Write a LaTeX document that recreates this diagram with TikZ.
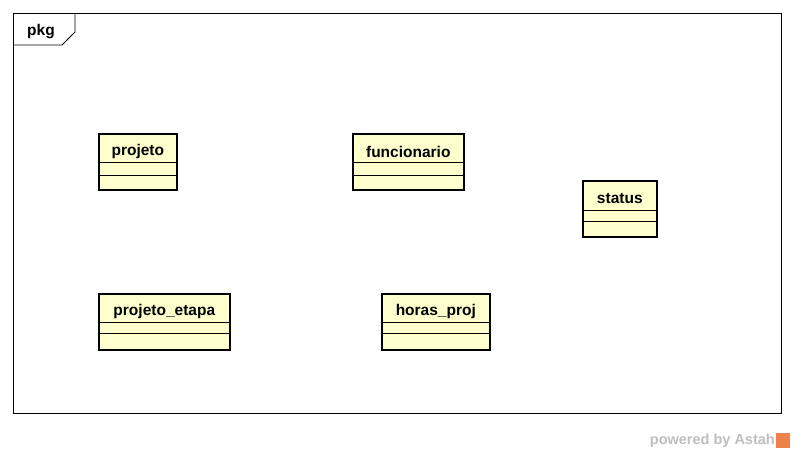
\documentclass[tikz,border=0pt]{standalone}
\usepackage{fontspec}
\setmainfont{Liberation Sans}
\usepackage{xcolor}
\usetikzlibrary{calc,positioning}
\definecolor{clsfill}{RGB}{255,255,206}
\definecolor{astahgray}{RGB}{190,190,190}
\definecolor{astahorange}{RGB}{238,128,74}

\begin{document}
\begin{tikzpicture}[
  x=1pt, y=-1pt,
  font=\fontsize{15.5}{18}\selectfont\bfseries,
  frame/.style={draw=black, line width=0.9pt},
  cls/.style={draw=black, fill=clsfill, line width=2.6pt, anchor=north west, inner sep=0pt},
  clsname/.style={inner sep=0pt, anchor=center},
  sep/.style={draw=black, line width=0.8pt}
]
\useasboundingbox (0,0) rectangle (794,453);

% package frame
\node[frame, minimum width=768pt, minimum height=400pt, anchor=north west, inner sep=0pt] (pkg) at (13,13) {};
\coordinate (tabend) at (75,13);
\draw[frame] (tabend) -- (75,32) -- (62,45) -- (13,45);
\node[clsname] (pkglabel) at (41,32) {pkg};

% classes
\node[cls, minimum width=78pt, minimum height=56pt] (projeto) at (97.5,132.5) {};
\node[clsname] (projetoname) at ($(projeto.north)+(0,19)$) {projeto};
\draw[sep] ($(projeto.north west)+(0,30)$) -- ++(78,0);
\draw[sep] ($(projeto.north west)+(0,43)$) -- ++(78,0);

\node[cls, minimum width=111pt, minimum height=56pt] (funcionario) at (351.5,132.5) {};
\node[clsname] (funcionarioname) at ($(funcionario.north)+(0,19)$) {funcionario};
\draw[sep] ($(funcionario.north west)+(0,30)$) -- ++(111,0);
\draw[sep] ($(funcionario.north west)+(0,43)$) -- ++(111,0);

\node[cls, minimum width=74pt, minimum height=56pt] (status) at (581.5,179.5) {};
\node[clsname] (statusname) at ($(status.north)+(0,19)$) {status};
\draw[sep] ($(status.north west)+(0,31)$) -- ++(74,0);
\draw[sep] ($(status.north west)+(0,42)$) -- ++(74,0);

\node[cls, minimum width=131pt, minimum height=56pt] (projetoetapa) at (97.5,292.5) {};
\node[clsname] (projetoetapaname) at ($(projetoetapa.north)+(0,19)$) {projeto\_etapa};
\draw[sep] ($(projetoetapa.north west)+(0,30)$) -- ++(131,0);
\draw[sep] ($(projetoetapa.north west)+(0,41)$) -- ++(131,0);

\node[cls, minimum width=108pt, minimum height=56pt] (horasproj) at (380.5,292.5) {};
\node[clsname] (horasprojname) at ($(horasproj.north)+(0,19)$) {horas\_proj};
\draw[sep] ($(horasproj.north west)+(0,30)$) -- ++(108,0);
\draw[sep] ($(horasproj.north west)+(0,41)$) -- ++(108,0);

% watermark
\node[anchor=east, inner sep=0pt, text=astahgray, font=\fontsize{14.5}{17}\selectfont\bfseries] (powered) at (775,441) {powered by Astah};
\node[fill=astahorange, minimum width=14pt, minimum height=15pt, inner sep=0pt, anchor=west] (astahlogo) at (776,440) {};
\end{tikzpicture}
\end{document}
